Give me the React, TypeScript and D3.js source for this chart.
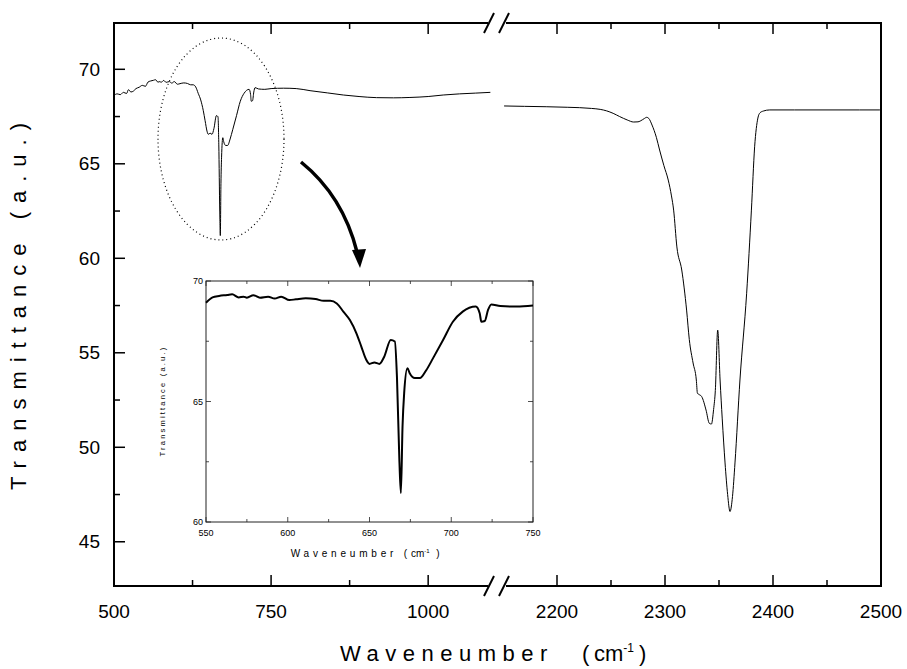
import React from "react";
import * as d3 from "d3";

// ---- data ----
const lowWn = [500, 505, 510, 515, 520, 523, 527, 531, 535, 540, 545, 550, 554, 558, 563, 566, 570, 573, 575, 579, 583, 588, 592, 596, 601, 605, 611, 617, 622, 626, 630, 634, 638, 642, 645, 648, 650, 653, 656, 659, 663, 665.5, 666.8, 668.3, 669.2, 670.2, 671.2, 673.2, 674.6, 677.7, 680.8, 684.8, 688.9, 695, 701, 707, 715, 717.4, 718.4, 720.5, 722.5, 724.5, 730, 740, 750, 770, 790, 812, 840, 865, 890, 918, 945, 971, 1000, 1024, 1050, 1075, 1099];
const lowT = [68.62, 68.7, 68.66, 68.78, 68.72, 68.92, 68.8, 68.85, 68.98, 69.05, 69.15, 69.1, 69.32, 69.38, 69.42, 69.45, 69.32, 69.35, 69.31, 69.41, 69.31, 69.35, 69.27, 69.35, 69.21, 69.24, 69.28, 69.25, 69.18, 69.18, 69.07, 68.73, 68.38, 67.83, 67.28, 66.73, 66.56, 66.62, 66.56, 66.86, 67.55, 67.49, 66.0, 62.5, 61.2, 63.96, 65.35, 66.38, 66.17, 65.97, 65.97, 66.31, 66.8, 67.55, 68.31, 68.73, 68.94, 68.66, 68.31, 68.34, 68.8, 69.03, 68.96, 68.94, 68.98, 69.0, 68.98, 68.87, 68.75, 68.64, 68.56, 68.5, 68.49, 68.51, 68.56, 68.64, 68.7, 68.74, 68.78];

const highWn = [2151, 2170, 2190, 2210, 2221, 2232, 2240, 2246, 2252, 2258, 2265, 2271, 2275, 2277, 2281, 2283, 2285, 2288, 2292, 2295, 2299, 2303, 2306, 2308, 2311, 2315.5, 2320, 2322.5, 2326, 2329, 2330, 2334, 2338, 2341, 2343, 2345, 2346.6, 2348.8, 2351, 2353, 2355.6, 2358, 2360.2, 2362.5, 2364.8, 2369.4, 2375.6, 2380, 2383, 2386, 2388, 2391, 2397, 2420, 2450, 2480, 2499];
const highT = [68.06, 68.04, 68.02, 67.99, 67.97, 67.93, 67.88, 67.8, 67.67, 67.5, 67.32, 67.21, 67.22, 67.26, 67.4, 67.46, 67.4, 67.05, 66.4, 65.73, 64.9, 64.14, 63.3, 62.55, 60.6, 59.38, 57.26, 55.7, 54.46, 53.56, 52.87, 52.68, 51.97, 51.27, 51.23, 52.0, 53.0, 56.2, 53.56, 51.5, 49.17, 47.5, 46.6, 47.4, 49.17, 53.56, 58.15, 62.55, 65.9, 67.42, 67.7, 67.79, 67.85, 67.85, 67.85, 67.85, 67.85];

const yTicks = [45, 50, 55, 60, 65, 70];
const yMinor = [47.5, 52.5, 57.5, 62.5, 67.5];
const xLeftTicks = [500, 750, 1000];
const xLeftMinor = [625, 875];
const xRightTicks = [2200, 2300, 2400, 2500];
const xRightMinor = [2250, 2350, 2450];

const insetXTicks = [550, 600, 650, 700, 750];
const insetXMinor = [575, 625, 675, 725];
const insetYTicks = [60, 65, 70];
const insetYMinor = [62.5, 67.5];

const FONT = "'Liberation Sans', Arial, sans-serif";

export default function App() {
  const W = 907, H = 669;
  // main layout
  const L = 114, R = 881, T = 23, B = 586;
  const breakL = 491, breakR = 503;
  const xLeft = d3.scaleLinear().domain([500, 1100]).range([L, breakL]);
  const xRight = d3.scaleLinear().domain([2150, 2500]).range([breakR, R]);
  const y = d3.scaleLinear().domain([42.66, 72.45]).range([B, T]);

  const lowPts = lowWn.map((w, i) => [w, lowT[i]] as [number, number]);
  const highPts = highWn.map((w, i) => [w, highT[i]] as [number, number]);

  const lineLow = d3.line<[number, number]>().x(d => xLeft(d[0])).y(d => y(d[1])).curve(d3.curveMonotoneX);
  const lineHigh = d3.line<[number, number]>().x(d => xRight(d[0])).y(d => y(d[1])).curve(d3.curveMonotoneX);

  // inset layout
  const iL = 206, iR = 533, iT = 281, iB = 522;
  const ix = d3.scaleLinear().domain([550, 750]).range([iL, iR]);
  const iy = d3.scaleLinear().domain([60, 70]).range([iB, iT]);
  const insetPts = lowPts.filter(d => d[0] >= 550 && d[0] <= 750);
  const lineInset = d3.line<[number, number]>().x(d => ix(d[0])).y(d => iy(d[1])).curve(d3.curveMonotoneX);

  const major = 11, minor = 6;
  const slash = (cx: number, cy: number, k: string) => (
    <line key={k} x1={cx - 5} y1={cy + 10} x2={cx + 5} y2={cy - 10} stroke="#000" strokeWidth={2} />
  );

  return (
    <svg width={W} height={H} style={{ position: "absolute", left: 0, top: 0, background: "#fff" }} fontFamily={FONT}>
      <rect x={0} y={0} width={W} height={H} fill="#fff" />

      {/* frame */}
      <g stroke="#000" strokeWidth={2} fill="none">
        <line x1={L} y1={T} x2={L} y2={B} />
        <line x1={R} y1={T} x2={R} y2={B} />
        <line x1={L - 1} y1={B} x2={R + 1} y2={B} />
        <line x1={L - 1} y1={T} x2={R + 1} y2={T} />
      </g>
      {/* break marks */}
      <g>
        <rect x={breakL - 3} y={T - 2} width={breakR - breakL + 6} height={4} fill="#fff" />
        <rect x={breakL - 3} y={B - 2} width={breakR - breakL + 6} height={4} fill="#fff" />
        {slash(489, T, "t1")}{slash(504, T, "t2")}
        {slash(489, B, "b1")}{slash(504, B, "b2")}
      </g>

      {/* ticks */}
      <g stroke="#000" strokeWidth={1.5}>
        {yTicks.map(v => <line key={"ym" + v} x1={L} x2={L + major} y1={y(v)} y2={y(v)} />)}
        {yMinor.map(v => <line key={"yn" + v} x1={L} x2={L + minor} y1={y(v)} y2={y(v)} />)}
        {xLeftTicks.map(v => <g key={"xl" + v}>
          <line x1={xLeft(v)} x2={xLeft(v)} y1={B} y2={B - major} />
          <line x1={xLeft(v)} x2={xLeft(v)} y1={T} y2={T + major} />
        </g>)}
        {xLeftMinor.map(v => <g key={"xln" + v}>
          <line x1={xLeft(v)} x2={xLeft(v)} y1={B} y2={B - minor} />
          <line x1={xLeft(v)} x2={xLeft(v)} y1={T} y2={T + minor} />
        </g>)}
        {xRightTicks.map(v => <g key={"xr" + v}>
          <line x1={xRight(v)} x2={xRight(v)} y1={B} y2={B - major} />
          <line x1={xRight(v)} x2={xRight(v)} y1={T} y2={T + major} />
        </g>)}
        {xRightMinor.map(v => <g key={"xrn" + v}>
          <line x1={xRight(v)} x2={xRight(v)} y1={B} y2={B - minor} />
          <line x1={xRight(v)} x2={xRight(v)} y1={T} y2={T + minor} />
        </g>)}
      </g>

      {/* tick labels */}
      <g fontSize={19} fill="#000">
        {yTicks.map(v => <text key={"yl" + v} x={L - 14} y={y(v)} dy="0.35em" textAnchor="end">{v}</text>)}
        {xLeftTicks.map(v => <text key={"xll" + v} x={xLeft(v)} y={618} textAnchor="middle">{v}</text>)}
        {xRightTicks.map(v => <text key={"xrl" + v} x={xRight(v)} y={618} textAnchor="middle">{v}</text>)}
      </g>

      {/* axis titles */}
      <text x={340} y={661} fontSize={22} letterSpacing={6.5}>
        Waveneumber
        <tspan x={582} letterSpacing={0}>(</tspan>
        <tspan x={594} letterSpacing={0}>cm</tspan>
        <tspan fontSize={12} dy={-9} letterSpacing={0}>-1</tspan>
        <tspan dx={5} dy={9} letterSpacing={0}>)</tspan>
      </text>
      <text transform="translate(26,302) rotate(-90)" fontSize={22} textAnchor="middle" letterSpacing={9}>
        Transmittance  (a.u.)
      </text>

      {/* spectra */}
      <path d={lineLow(lowPts) || ""} fill="none" stroke="#000" strokeWidth={1} />
      <path d={lineHigh(highPts) || ""} fill="none" stroke="#000" strokeWidth={1} />

      {/* dotted ellipse */}
      <ellipse cx={221} cy={139} rx={63} ry={101} fill="none" stroke="#000" strokeWidth={1.2} strokeDasharray="1,3" />

      {/* arrow */}
      <path d="M301,162 Q343,196 357,252" fill="none" stroke="#000" strokeWidth={3.5} />
      <path d="M352,250 L366,249 L360,268 Z" fill="#000" />

      {/* inset */}
      <rect x={iL} y={iT} width={iR - iL} height={iB - iT} fill="#fff" stroke="#222" strokeWidth={1} />
      <g stroke="#222" strokeWidth={0.8}>
        {insetXTicks.map(v => <g key={"ix" + v}>
          <line x1={ix(v)} x2={ix(v)} y1={iB} y2={iB - 5} />
          <line x1={ix(v)} x2={ix(v)} y1={iT} y2={iT + 5} />
        </g>)}
        {insetXMinor.map(v => <g key={"ixn" + v}>
          <line x1={ix(v)} x2={ix(v)} y1={iB} y2={iB - 3} />
          <line x1={ix(v)} x2={ix(v)} y1={iT} y2={iT + 3} />
        </g>)}
        {insetYTicks.map(v => <g key={"iy" + v}>
          <line x1={iL} x2={iL + 5} y1={iy(v)} y2={iy(v)} />
          <line x1={iR} x2={iR - 5} y1={iy(v)} y2={iy(v)} />
        </g>)}
        {insetYMinor.map(v => <g key={"iyn" + v}>
          <line x1={iL} x2={iL + 3} y1={iy(v)} y2={iy(v)} />
          <line x1={iR} x2={iR - 3} y1={iy(v)} y2={iy(v)} />
        </g>)}
      </g>
      <path d={lineInset(insetPts) || ""} fill="none" stroke="#000" strokeWidth={2} />
      <g fontSize={9} fill="#000">
        {insetXTicks.map(v => <text key={"ixl" + v} x={ix(v)} y={536} textAnchor="middle">{v}</text>)}
        {insetYTicks.map(v => <text key={"iyl" + v} x={iL - 3} y={iy(v)} dy="0.35em" textAnchor="end">{v}</text>)}
      </g>
      <text x={367} y={557} fontSize={10} textAnchor="middle" letterSpacing={3.8}>
        Waveneumber  (<tspan letterSpacing={0}>cm</tspan><tspan fontSize={6} dy={-4} letterSpacing={0}>-1</tspan><tspan dy={4}> )</tspan>
      </text>
      <text transform="translate(165,401) rotate(-90)" fontSize={7.5} textAnchor="middle" letterSpacing={2.2}>
        Transmittance  (a.u.)
      </text>
    </svg>
  );
}
